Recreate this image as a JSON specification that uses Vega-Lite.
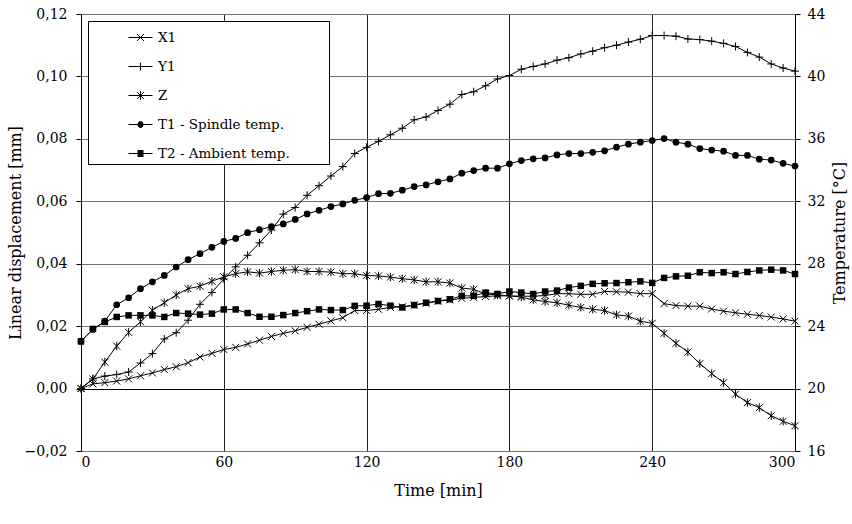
{
  "$schema": "https://vega.github.io/schema/vega-lite/v6.json",
  "width": 714,
  "height": 437,
  "autosize": {"type": "none"},
  "padding": {"left": 81, "top": 14, "right": 57, "bottom": 73},
  "background": "white",
  "config": {
    "font": "DejaVu Serif",
    "view": {"stroke": null},
    "axis": {"labelFont": "DejaVu Serif", "titleFont": "DejaVu Serif", "labelFontSize": 14, "titleFontSize": 16, "titleFontWeight": "normal", "labelColor": "black", "titleColor": "black"},
    "legend": {"labelFont": "DejaVu Serif"}
  },
  "data": {"values": [
    {"t":0,"X1":0,"Y1":0,"Z":0,"T1":23.04,"T2":23.02},
    {"t":5,"X1":0.0015,"Y1":0.0031,"Z":0.0031,"T1":23.79,"T2":23.82},
    {"t":10,"X1":0.0019,"Y1":0.0040,"Z":0.0085,"T1":24.32,"T2":24.27},
    {"t":15,"X1":0.0024,"Y1":0.0045,"Z":0.0136,"T1":25.37,"T2":24.59},
    {"t":20,"X1":0.0031,"Y1":0.0053,"Z":0.0180,"T1":25.82,"T2":24.69},
    {"t":25,"X1":0.0041,"Y1":0.0082,"Z":0.0214,"T1":26.40,"T2":24.69},
    {"t":30,"X1":0.0050,"Y1":0.0112,"Z":0.0251,"T1":26.84,"T2":24.69},
    {"t":35,"X1":0.0061,"Y1":0.0159,"Z":0.0275,"T1":27.25,"T2":24.59},
    {"t":40,"X1":0.0070,"Y1":0.0179,"Z":0.0300,"T1":27.79,"T2":24.84},
    {"t":45,"X1":0.0083,"Y1":0.0219,"Z":0.0320,"T1":28.26,"T2":24.80},
    {"t":50,"X1":0.0101,"Y1":0.0270,"Z":0.0328,"T1":28.64,"T2":24.74},
    {"t":55,"X1":0.0113,"Y1":0.0308,"Z":0.0344,"T1":29.05,"T2":24.80},
    {"t":60,"X1":0.0125,"Y1":0.0351,"Z":0.0358,"T1":29.43,"T2":25.07},
    {"t":65,"X1":0.0132,"Y1":0.0390,"Z":0.0368,"T1":29.62,"T2":25.07},
    {"t":70,"X1":0.0143,"Y1":0.0427,"Z":0.0374,"T1":29.99,"T2":24.84},
    {"t":75,"X1":0.0155,"Y1":0.0467,"Z":0.0370,"T1":30.18,"T2":24.60},
    {"t":80,"X1":0.0167,"Y1":0.0508,"Z":0.0375,"T1":30.37,"T2":24.60},
    {"t":85,"X1":0.0177,"Y1":0.0559,"Z":0.0379,"T1":30.55,"T2":24.71},
    {"t":90,"X1":0.0185,"Y1":0.0580,"Z":0.0381,"T1":30.84,"T2":24.84},
    {"t":95,"X1":0.0196,"Y1":0.0619,"Z":0.0375,"T1":31.19,"T2":24.96},
    {"t":100,"X1":0.0206,"Y1":0.0650,"Z":0.0375,"T1":31.42,"T2":25.07},
    {"t":105,"X1":0.0217,"Y1":0.0681,"Z":0.0373,"T1":31.66,"T2":25.03},
    {"t":110,"X1":0.0227,"Y1":0.0711,"Z":0.0368,"T1":31.83,"T2":25.03},
    {"t":115,"X1":0.0250,"Y1":0.0753,"Z":0.0368,"T1":32.06,"T2":25.30},
    {"t":120,"X1":0.0250,"Y1":0.0773,"Z":0.0362,"T1":32.24,"T2":25.31},
    {"t":125,"X1":0.0254,"Y1":0.0792,"Z":0.0361,"T1":32.49,"T2":25.42},
    {"t":130,"X1":0.0260,"Y1":0.0813,"Z":0.0357,"T1":32.51,"T2":25.31},
    {"t":135,"X1":0.0262,"Y1":0.0834,"Z":0.0352,"T1":32.71,"T2":25.20},
    {"t":140,"X1":0.0268,"Y1":0.0861,"Z":0.0348,"T1":32.94,"T2":25.35},
    {"t":145,"X1":0.0273,"Y1":0.0870,"Z":0.0342,"T1":33.05,"T2":25.50},
    {"t":150,"X1":0.0280,"Y1":0.0891,"Z":0.0342,"T1":33.25,"T2":25.61},
    {"t":155,"X1":0.0284,"Y1":0.0911,"Z":0.0338,"T1":33.43,"T2":25.72},
    {"t":160,"X1":0.0289,"Y1":0.0942,"Z":0.0322,"T1":33.80,"T2":25.94},
    {"t":165,"X1":0.0292,"Y1":0.0951,"Z":0.0318,"T1":33.97,"T2":25.94},
    {"t":170,"X1":0.0295,"Y1":0.0970,"Z":0.0303,"T1":34.12,"T2":26.15},
    {"t":175,"X1":0.0297,"Y1":0.0992,"Z":0.0300,"T1":34.12,"T2":26.06},
    {"t":180,"X1":0.0297,"Y1":0.1003,"Z":0.0297,"T1":34.40,"T2":26.22},
    {"t":185,"X1":0.0296,"Y1":0.1023,"Z":0.0293,"T1":34.61,"T2":26.15},
    {"t":190,"X1":0.0296,"Y1":0.1032,"Z":0.0284,"T1":34.72,"T2":26.06},
    {"t":195,"X1":0.0298,"Y1":0.1040,"Z":0.0279,"T1":34.78,"T2":26.22},
    {"t":200,"X1":0.0304,"Y1":0.1052,"Z":0.0275,"T1":34.97,"T2":26.28},
    {"t":205,"X1":0.0304,"Y1":0.1060,"Z":0.0267,"T1":35.06,"T2":26.47},
    {"t":210,"X1":0.0302,"Y1":0.1072,"Z":0.0260,"T1":35.06,"T2":26.58},
    {"t":215,"X1":0.0302,"Y1":0.1081,"Z":0.0254,"T1":35.14,"T2":26.71},
    {"t":220,"X1":0.0311,"Y1":0.1092,"Z":0.0250,"T1":35.23,"T2":26.75},
    {"t":225,"X1":0.0310,"Y1":0.1100,"Z":0.0236,"T1":35.47,"T2":26.76},
    {"t":230,"X1":0.0309,"Y1":0.1110,"Z":0.0232,"T1":35.66,"T2":26.81},
    {"t":235,"X1":0.0304,"Y1":0.1119,"Z":0.0216,"T1":35.79,"T2":26.87},
    {"t":240,"X1":0.0304,"Y1":0.1131,"Z":0.0209,"T1":35.89,"T2":26.77},
    {"t":245,"X1":0.0272,"Y1":0.1131,"Z":0.0177,"T1":36.02,"T2":27.09},
    {"t":250,"X1":0.0266,"Y1":0.1129,"Z":0.0145,"T1":35.79,"T2":27.19},
    {"t":255,"X1":0.0264,"Y1":0.1120,"Z":0.0117,"T1":35.66,"T2":27.23},
    {"t":260,"X1":0.0264,"Y1":0.1118,"Z":0.0080,"T1":35.38,"T2":27.45},
    {"t":265,"X1":0.0255,"Y1":0.1113,"Z":0.0048,"T1":35.28,"T2":27.40},
    {"t":270,"X1":0.0248,"Y1":0.1106,"Z":0.0019,"T1":35.21,"T2":27.45},
    {"t":275,"X1":0.0243,"Y1":0.1096,"Z":-0.0018,"T1":34.94,"T2":27.34},
    {"t":280,"X1":0.0238,"Y1":0.1077,"Z":-0.0045,"T1":34.94,"T2":27.47},
    {"t":285,"X1":0.0234,"Y1":0.1062,"Z":-0.0061,"T1":34.70,"T2":27.57},
    {"t":290,"X1":0.0229,"Y1":0.1040,"Z":-0.0087,"T1":34.64,"T2":27.62},
    {"t":295,"X1":0.0223,"Y1":0.1027,"Z":-0.0105,"T1":34.43,"T2":27.57},
    {"t":300,"X1":0.0216,"Y1":0.1017,"Z":-0.0119,"T1":34.26,"T2":27.34}
  ]},
  "transform": [{"fold": ["X1", "Y1", "Z", "T1", "T2"], "as": ["series", "value"]}],
  "encoding": {
    "x": {"field": "t", "type": "quantitative", "scale": {"domain": [0, 300], "nice": false, "zero": false},
      "axis": {"values": [0, 60, 120, 180, 240, 300], "title": "Time [min]", "grid": true, "gridColor": "#222", "gridOpacity": 1, "domain": false, "ticks": false, "labelPadding": 4, "titlePadding": 13}}
  },
  "layer": [
    {
      "encoding": {
        "y": {"field": "value", "type": "quantitative", "scale": {"domain": [-0.02, 0.12], "nice": false, "zero": false},
          "axis": {"values": [-0.02, 0, 0.02, 0.04, 0.06, 0.08, 0.1, 0.12], "labelExpr": "replace(format(datum.value, '.2f'), '.', ',')", "title": "Linear displacement [mm]", "grid": true, "gridColor": {"condition": {"test": "datum.value === 0", "value": "black"}, "value": "#707070"}, "gridOpacity": 1, "domainColor": "black", "tickColor": "black", "tickSize": 5, "labelPadding": 9, "titlePadding": 1}}
      },
      "layer": [
        {"transform": [{"filter": "datum.series === 'X1'"}], "mark": {"type": "line", "color": "black", "strokeWidth": 1, "point": {"shape": "M-1,-1L1,1M1,-1L-1,1", "filled": false, "size": 49, "color": "black", "strokeWidth": 1}}, "encoding": {}},
        {"transform": [{"filter": "datum.series === 'Y1'"}], "mark": {"type": "line", "color": "black", "strokeWidth": 1, "point": {"shape": "M-1,0L1,0M0,-1L0,1", "filled": false, "size": 64, "color": "black", "strokeWidth": 1}}, "encoding": {}},
        {"transform": [{"filter": "datum.series === 'Z'"}], "mark": {"type": "line", "color": "black", "strokeWidth": 1, "point": {"shape": "M-1,-1L1,1M1,-1L-1,1M0,-1.2L0,1.2", "filled": false, "size": 49, "color": "black", "strokeWidth": 1}}, "encoding": {}},
        {"transform": [{"filter": "datum.t === 0"}],
         "mark": {"type": "point", "filled": false, "opacity": 0, "color": "black", "strokeWidth": 1, "size": 576},
         "encoding": {"shape": {"field": "series", "type": "nominal",
           "scale": {"domain": ["X1", "Y1", "Z", "T1 - Spindle temp.", "T2 - Ambient temp."], "range": [
             "M-1,0L1,0M-0.29,-0.29L0.29,0.29M0.29,-0.29L-0.29,0.29M15.2,0L15.2,0",
             "M-1,0L1,0M0,-0.33L0,0.33M15.2,0L15.2,0",
             "M-1,0L1,0M-0.29,-0.29L0.29,0.29M0.29,-0.29L-0.29,0.29M0,-0.36L0,0.36M15.2,0L15.2,0",
             "M-1,0L1,0M-0.1,-0.25L0.1,-0.25M-0.2,-0.17L0.2,-0.17M-0.24,-0.08L0.24,-0.08M-0.25,0L0.25,0M-0.24,0.08L0.24,0.08M-0.2,0.17L0.2,0.17M-0.1,0.25L0.1,0.25M15.2,0L15.2,0",
             "M-1,0L1,0M-0.25,-0.25L0.25,-0.25M-0.25,-0.17L0.25,-0.17M-0.25,-0.08L0.25,-0.08M-0.25,0.08L0.25,0.08M-0.25,0.17L0.25,0.17M-0.25,0.25L0.25,0.25M15.2,0L15.2,0"]},
           "legend": {"title": null, "orient": "none", "legendX": 7, "legendY": 7, "strokeColor": "black", "fillColor": "white", "padding": 4,
             "symbolSize": 576, "symbolOpacity": 1, "symbolStrokeColor": "black", "symbolStrokeWidth": 1,
             "labelFont": "DejaVu Serif", "labelFontSize": 13.5, "labelColor": "black", "labelOffset": 5, "symbolOffset": 36, "rowPadding": 10}}}}
      ]
    },
    {
      "encoding": {
        "y": {"field": "value", "type": "quantitative", "scale": {"domain": [16, 44], "nice": false, "zero": false},
          "axis": {"orient": "right", "values": [16, 20, 24, 28, 32, 36, 40, 44], "title": "Temperature [°C]", "titleAngle": 270, "grid": false, "domainColor": "black", "tickColor": "black", "tickSize": 5, "labelPadding": 7, "titlePadding": 23}}
      },
      "layer": [
        {"transform": [{"filter": "datum.series === 'T1'"}], "mark": {"type": "line", "color": "black", "strokeWidth": 1, "point": {"shape": "circle", "filled": true, "size": 45, "color": "black"}}, "encoding": {}},
        {"transform": [{"filter": "datum.series === 'T2'"}], "mark": {"type": "line", "color": "black", "strokeWidth": 1, "point": {"shape": "square", "filled": true, "size": 42, "color": "black"}}, "encoding": {}}
      ]
    }
  ],
  "resolve": {"scale": {"y": "independent"}}
}
